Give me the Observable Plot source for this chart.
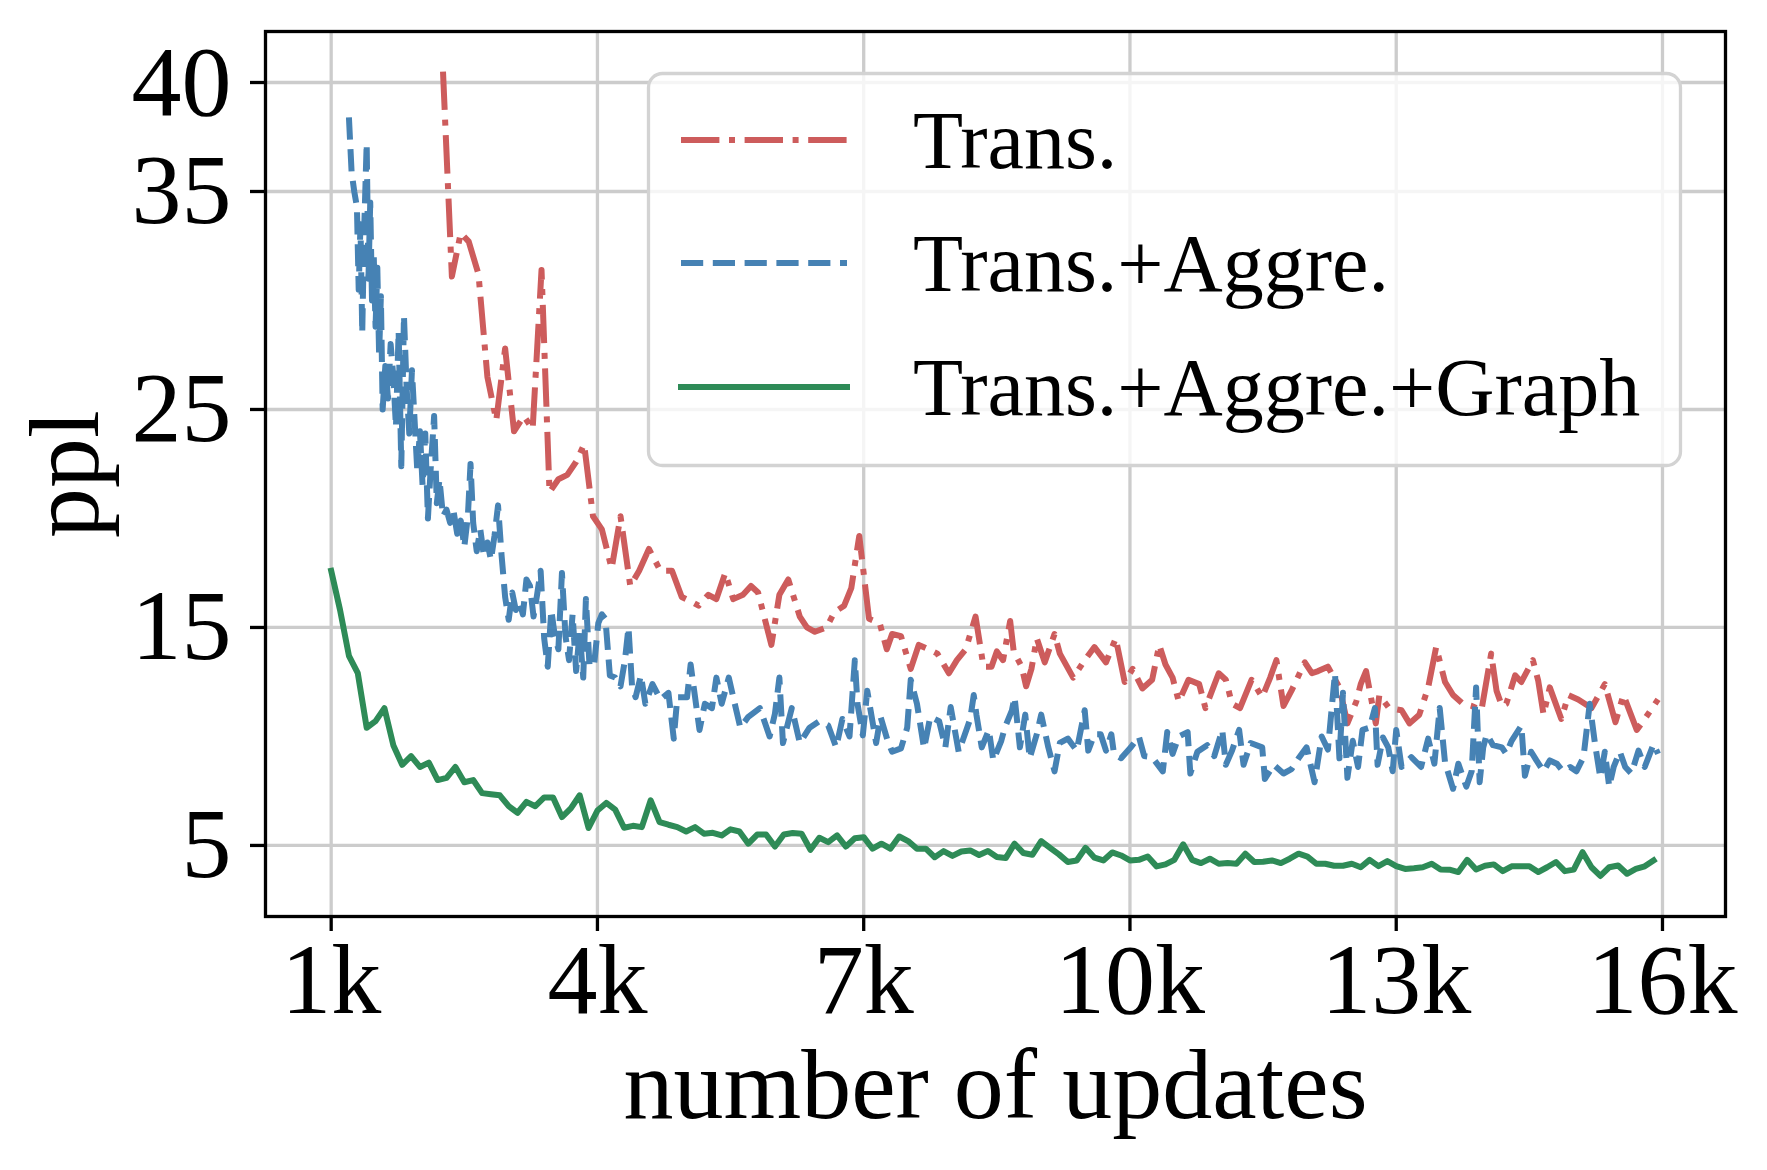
<!DOCTYPE html>
<html><head><meta charset="utf-8">
<script src="https://cdn.jsdelivr.net/npm/d3@7"></script>
<script src="https://cdn.jsdelivr.net/npm/@observablehq/plot@0.6"></script>
<style>
html,body{margin:0;padding:0;background:#fff;}
#wrap{position:relative;width:1767px;height:1170px;}
#legend{position:absolute;left:0;top:0;pointer-events:none;}
</style></head><body><div id="wrap"></div>
<script>
const seriesNames = ["Trans.", "Trans.+Aggre.", "Trans.+Aggre.+Graph"];
const seriesColors = ["#cd5c5c", "#4682b4", "#2e8b57"];
const xTicks = [1, 4, 7, 10, 13, 16];
const yTicks = [5, 15, 25, 35, 40];

// Trans. (red, dash-dot); x in thousands of updates
const transSteps = [2.26,2.36,2.46,2.55,2.66,2.76,2.86,2.96,3.06,3.17,3.27,3.37,3.46,3.56,3.66,3.76,3.85,3.95,4.05,4.16,4.26,4.37,4.47,4.58,4.71,4.84,4.95,5.05,5.14,5.25,5.34,5.44,5.53,5.64,5.73,5.81,5.96,6.05,6.15,6.28,6.36,6.45,6.58,6.67,6.78,6.86,6.95,7.06,7.18,7.26,7.32,7.42,7.53,7.62,7.73,7.83,7.96,8.05,8.15,8.26,8.35,8.44,8.5,8.57,8.65,8.69,8.78,8.83,8.89,8.95,9.04,9.15,9.21,9.36,9.49,9.6,9.73,9.84,9.94,10.03,10.14,10.25,10.33,10.4,10.48,10.55,10.66,10.78,10.85,11.0,11.08,11.15,11.24,11.37,11.49,11.58,11.65,11.73,11.82,11.97,12.05,12.12,12.23,12.36,12.45,12.55,12.6,12.66,12.77,12.81,12.92,13.06,13.15,13.26,13.36,13.45,13.55,13.64,13.75,13.85,13.96,14.07,14.13,14.19,14.24,14.34,14.41,14.54,14.6,14.66,14.73,14.86,14.94,15.05,15.2,15.35,15.47,15.56,15.71,15.8,15.95];
const transPpl = [40.5,31.1,33.1,32.7,31.2,26.5,24.5,27.8,24.0,24.7,24.1,31.4,21.2,21.8,22.0,22.6,23.4,20.1,19.5,17.7,20.1,16.9,17.6,18.6,17.6,17.6,16.4,16.2,16.0,16.5,16.3,17.5,16.3,16.5,16.9,16.6,14.2,16.5,17.2,15.5,15.0,14.8,15.0,15.7,16.0,16.8,19.2,15.4,15.2,14.0,14.7,14.6,13.1,14.2,14.0,13.8,12.9,13.5,14.0,15.5,13.2,13.2,13.9,13.5,15.3,13.9,13.2,12.3,13.1,14.5,13.4,14.7,13.8,12.7,13.5,14.1,13.4,14.5,12.5,13.1,12.2,12.6,14.2,13.3,12.7,11.6,12.6,12.4,11.3,12.9,12.6,11.5,11.3,12.6,11.8,12.7,13.5,11.4,12.1,13.4,12.9,13.0,13.2,12.25,10.6,11.6,12.4,13.0,10.6,11.9,11.3,11.2,10.6,11.0,12.25,14.1,12.5,11.9,11.5,11.4,11.2,13.8,12.1,11.4,11.5,12.8,12.5,13.5,12.55,11.0,12.25,10.8,11.9,11.7,11.3,12.4,10.65,11.9,10.3,10.8,11.7];

// Trans.+Aggre. (blue, dashed)
const aggreSteps = [1.2,1.23,1.26,1.29,1.31,1.33,1.35,1.37,1.4,1.42,1.44,1.46,1.48,1.5,1.52,1.54,1.56,1.58,1.61,1.64,1.67,1.7,1.73,1.76,1.79,1.82,1.85,1.88,1.91,1.94,1.97,2.0,2.03,2.06,2.09,2.12,2.16,2.19,2.22,2.26,2.3,2.34,2.38,2.42,2.46,2.5,2.54,2.57,2.6,2.64,2.68,2.72,2.76,2.8,2.84,2.88,2.92,2.96,3.0,3.04,3.08,3.12,3.16,3.2,3.24,3.28,3.32,3.36,3.4,3.44,3.48,3.52,3.56,3.6,3.64,3.68,3.72,3.76,3.8,3.84,3.87,3.91,3.96,4.01,4.05,4.09,4.14,4.2,4.26,4.31,4.35,4.39,4.43,4.49,4.54,4.62,4.71,4.8,4.86,4.9,5.01,5.05,5.1,5.15,5.21,5.29,5.34,5.4,5.48,5.53,5.61,5.7,5.83,5.94,6.0,6.05,6.09,6.19,6.28,6.39,6.5,6.6,6.69,6.76,6.84,6.9,6.93,6.99,7.04,7.14,7.19,7.27,7.32,7.42,7.49,7.53,7.6,7.68,7.75,7.85,7.92,7.98,8.07,8.14,8.2,8.24,8.27,8.33,8.41,8.46,8.55,8.59,8.67,8.7,8.76,8.82,8.87,8.95,9.0,9.08,9.15,9.21,9.3,9.4,9.49,9.53,9.6,9.67,9.73,9.79,9.82,9.9,10.01,10.1,10.16,10.25,10.37,10.42,10.48,10.55,10.65,10.68,10.76,10.87,10.95,11.04,11.08,11.15,11.23,11.28,11.36,11.49,11.52,11.62,11.73,11.82,11.9,11.99,12.08,12.16,12.23,12.31,12.36,12.4,12.45,12.51,12.57,12.62,12.7,12.76,12.79,12.85,12.91,12.96,13.0,13.06,13.17,13.28,13.36,13.43,13.49,13.55,13.64,13.7,13.79,13.85,13.9,13.94,13.98,14.02,14.09,14.19,14.24,14.3,14.41,14.45,14.52,14.58,14.66,14.73,14.81,14.88,14.96,15.03,15.11,15.18,15.24,15.3,15.35,15.4,15.45,15.52,15.58,15.65,15.73,15.8,15.9,15.95];
const aggrePpl = [38.4,35.9,35.0,34.3,30.5,33.5,28.5,33.0,37.2,31.0,34.5,30.0,32.0,28.8,31.5,27.5,30.2,25.0,27.0,25.5,28.0,26.5,24.2,28.6,22.4,29.3,26.0,23.9,26.8,24.5,22.2,24.0,21.5,23.9,20.0,22.2,24.7,20.7,21.8,20.1,20.4,19.8,20.3,19.3,19.9,18.7,20.1,22.5,19.8,18.5,19.5,18.3,18.9,18.1,19.2,20.6,18.3,16.4,15.35,16.6,15.8,16.2,15.6,17.2,16.9,15.5,16.5,17.6,14.5,13.2,15.8,14.6,14.0,17.5,14.6,13.5,15.6,13.0,14.8,12.7,16.3,13.3,13.2,15.2,15.6,15.4,12.8,12.7,12.3,13.5,15.0,12.3,11.8,12.8,11.5,12.4,11.7,12.0,9.9,11.8,11.8,13.3,11.8,10.3,11.5,11.3,12.7,11.5,12.7,11.8,10.4,10.9,11.3,10.0,11.05,12.7,9.7,11.3,9.7,10.4,10.7,10.5,9.5,10.8,10.0,13.5,11.5,10.05,12.1,9.7,10.9,9.8,9.3,9.45,10.4,12.6,11.5,9.45,10.9,10.7,9.5,11.35,9.3,10.1,10.8,11.9,11.0,9.5,10.3,8.9,9.8,10.4,11.2,11.8,9.5,11.0,9.0,10.1,11.0,9.5,8.4,9.7,9.9,9.35,11.2,9.35,10.1,10.1,9.35,10.1,9.2,9.0,9.5,10.0,9.1,9.05,8.4,10.2,9.2,10.0,10.2,8.3,9.3,9.6,9.1,10.3,8.7,9.35,10.3,8.7,9.7,9.5,8.05,8.7,8.3,8.5,9.0,9.5,7.9,10.0,9.4,12.9,9.0,12.0,8.1,9.8,8.6,10.3,10.4,11.3,8.7,9.95,9.5,8.4,10.3,8.6,9.05,8.6,9.9,8.75,11.3,8.8,7.6,8.75,7.7,8.4,12.25,7.9,9.5,10.1,9.6,9.5,9.2,9.8,10.5,8.2,9.3,8.9,8.4,8.9,8.75,8.4,8.6,8.4,9.05,11.5,9.65,8.1,9.3,7.7,8.6,9.3,8.6,8.3,9.35,8.6,9.65,9.2];

// Trans.+Aggre.+Graph (green, solid)
const graphSteps = [1.0,1.1,1.2,1.3,1.4,1.5,1.6,1.7,1.8,1.9,2.0,2.1,2.2,2.3,2.4,2.5,2.6,2.7,2.8,2.9,3.0,3.1,3.2,3.3,3.4,3.5,3.6,3.7,3.8,3.9,4.0,4.1,4.2,4.3,4.4,4.5,4.6,4.7,4.8,4.9,5.0,5.1,5.2,5.3,5.4,5.5,5.6,5.7,5.8,5.9,6.0,6.1,6.2,6.3,6.4,6.5,6.6,6.7,6.8,6.9,7.0,7.1,7.2,7.3,7.4,7.5,7.6,7.7,7.8,7.9,8.0,8.1,8.2,8.3,8.4,8.5,8.6,8.7,8.8,8.9,9.0,9.1,9.2,9.3,9.4,9.5,9.6,9.7,9.8,9.9,10.0,10.1,10.2,10.3,10.4,10.5,10.6,10.7,10.8,10.9,11.0,11.1,11.2,11.3,11.4,11.5,11.6,11.7,11.8,11.9,12.0,12.1,12.2,12.3,12.4,12.5,12.6,12.7,12.8,12.9,13.0,13.1,13.2,13.3,13.4,13.5,13.6,13.7,13.8,13.9,14.0,14.1,14.2,14.3,14.4,14.5,14.6,14.7,14.8,14.9,15.0,15.1,15.2,15.3,15.4,15.5,15.6,15.7,15.8,15.9];
const graphPpl = [17.6,15.8,13.7,12.9,10.4,10.7,11.3,9.6,8.7,9.1,8.6,8.8,8.0,8.1,8.6,7.9,8.0,7.4,7.35,7.3,6.8,6.5,7.0,6.8,7.2,7.2,6.3,6.7,7.3,5.8,6.6,6.95,6.64,5.81,5.9,5.84,7.07,6.07,5.95,5.84,5.64,5.84,5.54,5.58,5.46,5.74,5.64,5.08,5.5,5.5,4.95,5.5,5.57,5.54,4.8,5.35,5.15,5.46,4.95,5.33,5.38,4.85,5.08,4.85,5.41,5.2,4.85,4.85,4.46,4.74,4.52,4.72,4.77,4.56,4.74,4.47,4.42,5.08,4.65,4.57,5.2,4.89,4.59,4.24,4.31,4.89,4.44,4.31,4.68,4.54,4.31,4.34,4.49,4.04,4.13,4.34,5.05,4.34,4.19,4.39,4.16,4.19,4.16,4.62,4.24,4.25,4.31,4.19,4.39,4.62,4.49,4.16,4.16,4.07,4.07,4.16,4.0,4.34,4.05,4.28,4.05,3.92,3.95,4.0,4.16,3.9,3.89,3.78,4.34,3.9,4.07,4.13,3.82,4.04,4.05,4.05,3.78,4.0,4.24,3.82,3.89,4.69,4.0,3.6,4.0,4.08,3.7,3.92,4.04,4.31];

const toRows = (steps, vals) => steps.map((x, i) => ({x, y: vals[i]}));
const transRows = toRows(transSteps, transPpl);
const aggreRows = toRows(aggreSteps, aggrePpl);
const graphRows = toRows(graphSteps, graphPpl);

const LW = 6;
const dashes = ["38.4,9.6,6,9.6", "22.2,9.6", null];
const gridStyle = {stroke: "#cccccc", strokeOpacity: 1, strokeWidth: 3.3};
const FONT = "'Liberation Serif', 'Times New Roman', serif";

const chart = Plot.plot({
  width: 1767, height: 1170,
  marginLeft: 265, marginRight: 42, marginTop: 31, marginBottom: 254,
  x: {domain: [0.26, 16.71]},
  y: {domain: [1.74, 42.34]},
  style: {fontFamily: FONT, background: "white", color: "black"},
  marks: [
    Plot.gridX(xTicks, gridStyle),
    Plot.gridY(yTicks, gridStyle),
    Plot.line(transRows, {x: "x", y: "y", stroke: seriesColors[0], strokeWidth: LW, strokeDasharray: dashes[0], strokeLinecap: "butt", strokeLinejoin: "round"}),
    Plot.line(aggreRows, {x: "x", y: "y", stroke: seriesColors[1], strokeWidth: LW, strokeDasharray: dashes[1], strokeLinecap: "butt", strokeLinejoin: "round"}),
    Plot.line(graphRows, {x: "x", y: "y", stroke: seriesColors[2], strokeWidth: LW, strokeLinecap: "square", strokeLinejoin: "round"}),
    Plot.frame({stroke: "black", strokeWidth: 3.3}),
    Plot.axisX(xTicks, {tickSize: 15, tickPadding: 10, fontSize: 100, strokeWidth: 3.3, tickFormat: d => d + "k", label: null}),
    Plot.axisY(yTicks, {tickSize: 15, tickPadding: 19, fontSize: 100, strokeWidth: 3.3, label: null}),
    Plot.text(["number of updates"], {text: d => d, frameAnchor: "bottom", lineAnchor: "bottom", dy: 201, fontSize: 100}),
    Plot.text(["ppl"], {text: d => d, frameAnchor: "left", textAnchor: "middle", rotate: -90, lineAnchor: "bottom", dx: -168, fontSize: 100})
  ]
});

const wrap = document.getElementById("wrap");
wrap.appendChild(chart);

// Legend overlay (inside the axes, upper right)
const ns = "http://www.w3.org/2000/svg";
const leg = document.createElementNS(ns, "svg");
leg.setAttribute("id", "legend");
leg.setAttribute("width", 1767);
leg.setAttribute("height", 1170);
const box = document.createElementNS(ns, "rect");
Object.entries({x: 648.5, y: 73.5, width: 1032, height: 392, rx: 14, ry: 14, fill: "white", "fill-opacity": 0.8, stroke: "#d3d3d3", "stroke-width": 3.3}).forEach(([k, v]) => box.setAttribute(k, v));
leg.appendChild(box);
const rowY = [140, 263, 387];
seriesNames.forEach((name, i) => {
  const ln = document.createElementNS(ns, "line");
  const attrs = {x1: 681, x2: 847, y1: rowY[i], y2: rowY[i], stroke: seriesColors[i], "stroke-width": LW, "stroke-linecap": i === 2 ? "square" : "butt"};
  if (dashes[i]) attrs["stroke-dasharray"] = dashes[i];
  Object.entries(attrs).forEach(([k, v]) => ln.setAttribute(k, v));
  leg.appendChild(ln);
  const tx = document.createElementNS(ns, "text");
  tx.setAttribute("x", 913);
  tx.setAttribute("y", rowY[i] + 28);
  tx.setAttribute("font-family", FONT);
  tx.setAttribute("font-size", 82);
  tx.setAttribute("fill", "black");
  tx.textContent = name;
  leg.appendChild(tx);
});
wrap.appendChild(leg);
</script></body></html>
